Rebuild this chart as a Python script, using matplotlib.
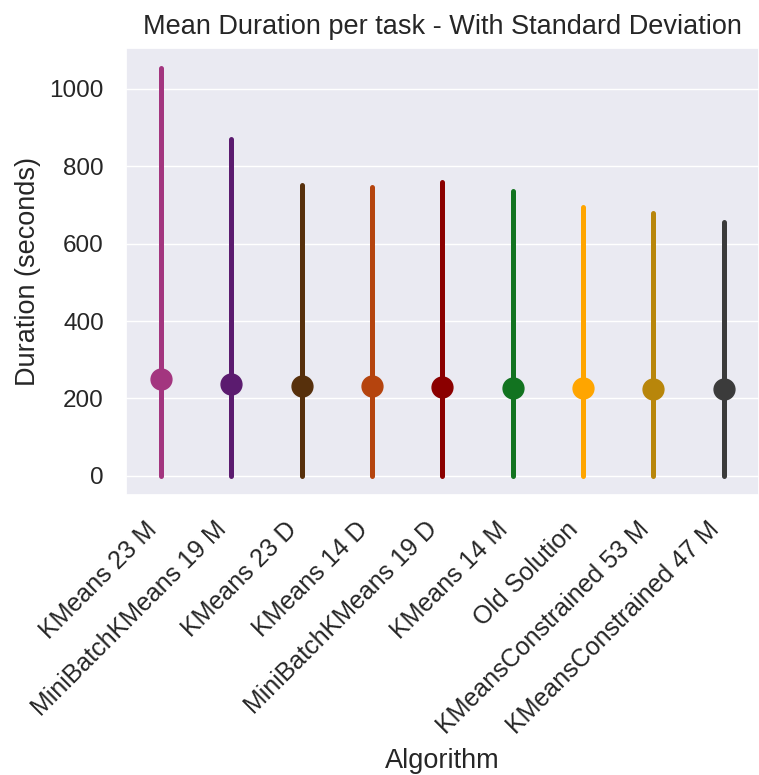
import matplotlib
matplotlib.use("Agg")
import matplotlib.pyplot as plt
import seaborn as sns

algorithms = ["KMeans 23 M", "MiniBatchKMeans 19 M", "KMeans 23 D", "KMeans 14 D",
              "MiniBatchKMeans 19 D", "KMeans 14 M", "Old Solution",
              "KMeansConstrained 53 M", "KMeansConstrained 47 M"]
mean_duration = [251, 238, 232, 231, 229, 228, 226, 225, 224]
std_duration = [803, 633, 518, 516, 529, 508, 468, 453, 431]
colors = ["#a3357f", "#5b1b6f", "#57300c", "#b5440e", "#8b0000",
          "#127320", "#ffa500", "#b8860b", "#3b3b3b"]

sns.set_theme(style="darkgrid")
plt.rcParams["font.family"] = ["Liberation Sans", "DejaVu Sans"]

fig = plt.figure(figsize=(7.59, 7.75), dpi=100)
ax = fig.add_axes([0.166, 0.361, 0.834, 0.577])

for i, (m, s, c) in enumerate(zip(mean_duration, std_duration, colors)):
    lo = max(m - s, 0)
    hi = m + s
    ax.plot([i, i], [lo, hi], color=c, lw=3.6, solid_capstyle="round", zorder=2)
    ax.plot(i, m, "o", color=c, markersize=15, zorder=3)

ax.set_xlim(-0.5, len(algorithms) - 0.5)
ax.set_ylim(-50, 1105)
ax.set_xticks(range(len(algorithms)))
ax.set_xticklabels(algorithms, rotation=45, ha="right", fontsize=18)
ax.tick_params(axis="y", labelsize=17.5)
ax.tick_params(axis="both", pad=10)
ax.set_yticks([0, 200, 400, 600, 800, 1000])
ax.set_xlabel("Algorithm", fontsize=19.5, labelpad=7)
ax.set_ylabel("Duration (seconds)", fontsize=19.5, labelpad=6)
ax.set_title("Mean Duration per task - With Standard Deviation", fontsize=19.5, pad=10)
ax.grid(axis="x", visible=False)

fig.savefig("out.png", dpi=100)
